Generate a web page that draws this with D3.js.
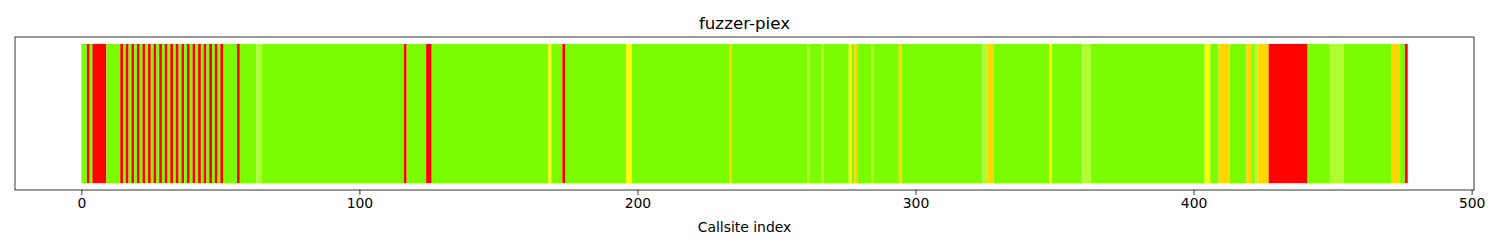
<!DOCTYPE html>
<html>
<head>
<meta charset="utf-8">
<script src="https://cdn.jsdelivr.net/npm/d3@7"></script>
<style>
  body { margin: 0; background: #fff; }
  svg { display: block; font-family: "DejaVu Sans", sans-serif; }
</style>
</head>
<body>
<svg id="chart" width="1500" height="250"></svg>
<script>
// number of callsites (one cell per index)
const nCallsites = 477;

// callsite indices per colour class; everything else is lawngreen
const redIdx = [2, 4, 5, 6, 7, 8,
  14, 16, 18, 20, 22, 24, 26, 28, 30, 32, 34, 36, 38, 40, 42, 44, 46, 48, 50,
  56, 116, 124, 125, 173,
  427, 428, 429, 430, 431, 432, 433, 434, 435, 436, 437, 438, 439, 440,
  476];
const yellowIdx = [168, 196, 197, 276, 348, 404, 405];
const goldIdx = [233, 278, 294, 326, 327, 409, 410, 411, 412, 419, 420,
  423, 424, 425, 426, 471, 472, 473];
const greenyellowIdx = [63, 64, 261, 266, 284, 324, 325, 360, 361, 362,
  422, 449, 450, 451, 452, 453];

const xTicks = [0, 100, 200, 300, 400, 500];

var svg = d3.select("#chart");
var margin = { left: 15, right: 1474, top: 37, bottom: 190 };

// matplotlib style 5% margins around the data
var pad = nCallsites * 0.05;
var x = d3.scaleLinear().domain([-pad, nCallsites + pad]).range([margin.left, margin.right]);
var y = d3.scaleLinear().domain([-0.05, 1.05]).range([margin.bottom, margin.top]);

// colour per index
var colors = d3.range(nCallsites).map(function () { return "#7cfc00"; });
redIdx.forEach(function (i) { colors[i] = "#ff0000"; });
yellowIdx.forEach(function (i) { colors[i] = "#ffff00"; });
goldIdx.forEach(function (i) { colors[i] = "#ffd700"; });
greenyellowIdx.forEach(function (i) { colors[i] = "#adff2f"; });

// merge neighbouring cells of the same colour so no seams show
var runs = [];
colors.forEach(function (c, i) {
    var last = runs[runs.length - 1];
    if (last && last.color === c) last.end = i + 1;
    else runs.push({ start: i, end: i + 1, color: c });
});

svg.append("g").selectAll("rect").data(runs).enter().append("rect")
    .attr("x", function (d) { return x(d.start); })
    .attr("width", function (d) { return x(d.end) - x(d.start); })
    .attr("y", y(1))
    .attr("height", y(0) - y(1))
    .attr("fill", function (d) { return d.color; });

// frame
svg.append("rect")
    .attr("x", margin.left).attr("y", margin.top)
    .attr("width", margin.right - margin.left).attr("height", margin.bottom - margin.top)
    .attr("fill", "none").attr("stroke", "black").attr("stroke-width", 0.8);

// x axis
var axis = svg.append("g")
    .attr("transform", "translate(0," + margin.bottom + ")")
    .call(d3.axisBottom(x).tickValues(xTicks).tickSize(4.9).tickPadding(3.5));
axis.select(".domain").remove();
axis.selectAll(".tick line").attr("stroke", "black").attr("stroke-width", 0.8);
axis.selectAll(".tick text")
    .attr("fill", "black")
    .style("font-family", "DejaVu Sans")
    .style("font-size", "13.9px");

// labels
svg.append("text")
    .attr("x", (margin.left + margin.right) / 2).attr("y", 232)
    .attr("text-anchor", "middle")
    .style("font-size", "13.9px")
    .text("Callsite index");

svg.append("text")
    .attr("x", (margin.left + margin.right) / 2).attr("y", 29)
    .attr("text-anchor", "middle")
    .style("font-size", "16.7px")
    .text("fuzzer-piex");
</script>
</body>
</html>
